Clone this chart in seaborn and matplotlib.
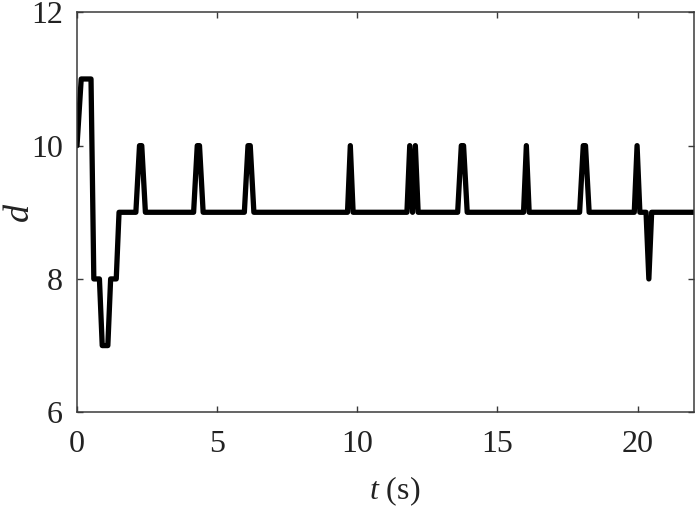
import matplotlib
matplotlib.use("Agg")
import matplotlib.pyplot as plt
import seaborn as sns
import pandas as pd

# breakpoints of the step/spike signal (time in s, value d)
t_values = [0.0, 0.15, 0.5, 0.6, 0.8, 0.9, 1.1, 1.2, 1.4, 1.5,
            2.1, 2.23, 2.31, 2.44,
            4.16, 4.29, 4.37, 4.5,
            5.97, 6.1, 6.18, 6.31,
            9.65, 9.75, 9.85,
            11.77, 11.87, 11.97, 12.07, 12.17,
            13.58, 13.71, 13.79, 13.92,
            15.93, 16.03, 16.13,
            17.93, 18.06, 18.14, 18.27,
            19.88, 19.98, 20.08,
            20.3, 20.4, 20.5, 22.0]
d_values = [10, 11, 11, 8, 8, 7, 7, 8, 8, 9,
            9, 10, 10, 9,
            9, 10, 10, 9,
            9, 10, 10, 9,
            9, 10, 9,
            9, 10, 9, 10, 9,
            9, 10, 10, 9,
            9, 10, 9,
            9, 10, 10, 9,
            9, 10, 9,
            9, 8, 9, 9]

x_ticks = [0, 5, 10, 15, 20]
y_ticks = [6, 8, 10, 12]

df = pd.DataFrame({"t": t_values, "d": d_values})

sns.set_theme(style="white")
plt.rcParams["font.family"] = ["Liberation Serif", "DejaVu Serif"]
plt.rcParams["mathtext.fontset"] = "custom"
plt.rcParams["mathtext.rm"] = "Liberation Serif"
plt.rcParams["mathtext.it"] = "Liberation Serif:italic"

fig = plt.figure(figsize=(7.0, 5.14), dpi=100)
ax = fig.add_axes([0.11, 0.198, 0.881, 0.778])

sns.lineplot(data=df, x="t", y="d", ax=ax, color="black", linewidth=3.8,
             estimator=None, sort=False)

ax.set_xlim(0, 22)
ax.set_ylim(6, 12)
ax.set_xticks(x_ticks)
ax.set_yticks(y_ticks)
ax.set_xticklabels([str(v) for v in x_ticks])
ax.set_yticklabels([str(v) for v in y_ticks])

for s in ax.spines.values():
    s.set_visible(True)
    s.set_color("#3a3a3a")
    s.set_linewidth(1.1)

ax.tick_params(axis="both", which="both", direction="in", length=4, width=1,
               color="#3a3a3a", labelsize=23, labelcolor="#222222",
               top=True, right=True, bottom=True, left=True)
ax.tick_params(axis="x", pad=13)
ax.tick_params(axis="y", pad=10)

ax.set_xlabel(r"$t$ (s)", fontsize=23, color="#222222")
ax.xaxis.set_label_coords(0.515, -0.155)
ax.set_ylabel("d", fontsize=26, fontstyle="italic", color="#222222")
ax.yaxis.set_label_coords(-0.066, 0.5)

fig.savefig("out.png", dpi=100)
